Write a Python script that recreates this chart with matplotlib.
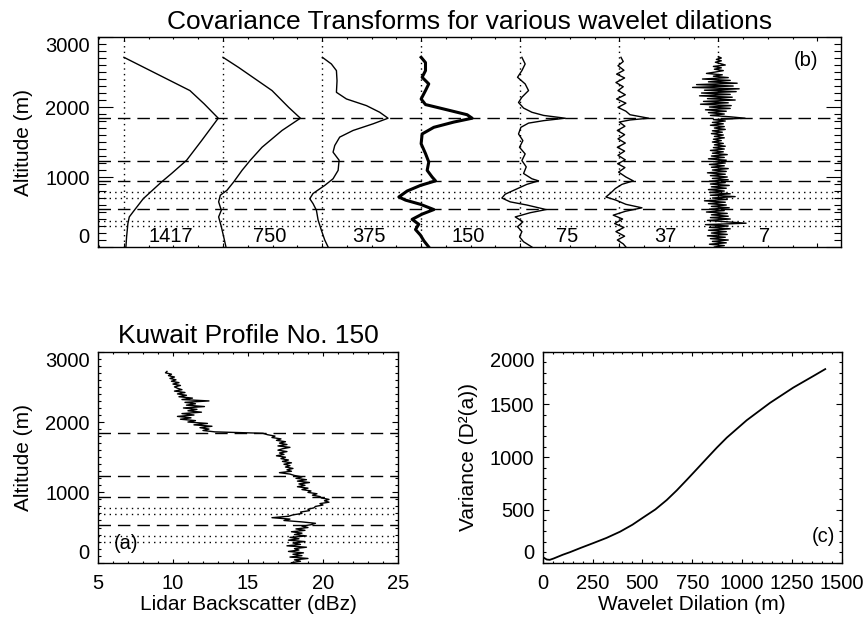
import numpy as np
import matplotlib.pyplot as plt
from matplotlib.ticker import MultipleLocator

plt.rcParams['font.family'] = ['Liberation Sans', 'DejaVu Sans']

# ---- data ----
dilations = ['1417', '750', '375', '150', '75', '37', '7']

# layer altitudes marked in panels (a) and (b)
dashed_alt = [1845, 1228, 940, 540]
dotted_alt = [780, 695, 377, 299]

# covariance transforms (plot units, offset per dilation)
alt_1417 = [2710, 2235, 2045, 1840, 1520, 1240, 1050, 930, 690, 505, 430, 335, 145, 0]
cov_1417 = [0.0, 0.666, 0.81, 0.952, 0.784, 0.633, 0.481, 0.380, 0.195, 0.094, 0.054, 0.040, 0.027, 0.020]

alt_750 = [2710, 2565, 2235, 1995, 1840, 1665, 1425, 1240, 1095, 930, 810, 740, 645, 525, 430, 290, 145, 0]
cov_750 = [0.0, 0.158, 0.495, 0.663, 0.781, 0.596, 0.394, 0.276, 0.192, 0.108, 0.040, -0.027, -0.044,
           -0.017, -0.044, -0.017, 0.007, 0.030]

alt_375 = [2710, 2615, 2520, 2375, 2210, 2115, 2020, 1925, 1840, 1760, 1665, 1570, 1450, 1355, 1240,
           1095, 975, 880, 765, 690, 620, 525, 385, 240, 100, 0]
cov_375 = [0.003, 0.094, 0.145, 0.151, 0.145, 0.246, 0.448, 0.582, 0.666, 0.515, 0.313, 0.178, 0.128,
           0.111, 0.172, 0.162, 0.111, 0.027, -0.091, -0.124, -0.091, -0.057, -0.040, -0.007, 0.027, 0.061]

alt_150 = [2710, 2635, 2520, 2425, 2330, 2235, 2115, 2035, 1960, 1890, 1840, 1785, 1710, 1615, 1475,
           1335, 1215, 1095, 1000, 945, 880, 800, 715, 670, 610, 535, 470, 395, 325, 250, 170, 90, 0]
cov_150 = [0.0, 0.044, 0.044, 0.010, 0.077, 0.044, 0.0, 0.044, 0.262, 0.464, 0.515, 0.330, 0.128,
           0.010, 0.0, 0.044, 0.077, 0.061, 0.111, 0.145, -0.007, -0.141, -0.225, -0.158, -0.007,
           0.128, 0.010, -0.091, -0.024, -0.057, -0.007, 0.027, 0.077]

alt_75 = [2710, 2615, 2520, 2425, 2330, 2235, 2140, 2065, 1985, 1925, 1880, 1840, 1805, 1770, 1710,
          1615, 1520, 1425, 1330, 1235, 1145, 1050, 975, 945, 895, 820, 755, 700, 645, 600, 535, 490,
          430, 360, 290, 220, 145, 75, 0]
cov_75 = [0.017, 0.050, 0.017, -0.027, 0.050, 0.084, 0.017, -0.017, 0.034, 0.118, 0.236, 0.454, 0.236,
          0.084, 0.007, -0.017, 0.027, -0.007, 0.050, 0.017, 0.061, 0.034, 0.118, 0.185, 0.067, -0.050,
          -0.151, -0.185, -0.101, 0.067, 0.262, 0.101, -0.050, 0.027, -0.027, 0.017, -0.007, 0.034, 0.118]

alt_37 = [2710, 2650, 2590, 2525, 2470, 2415, 2350, 2290, 2235, 2175, 2115, 2055, 1995, 1940, 1890,
          1865, 1840, 1815, 1785, 1725, 1665, 1605, 1545, 1485, 1425, 1370, 1310, 1245, 1190, 1135,
          1070, 1000, 945, 895, 835, 775, 715, 670, 610, 560, 510, 455, 400, 335, 280, 220, 155, 100, 45, 0]
cov_37 = [0.017, 0.040, -0.013, 0.047, -0.027, 0.054, -0.034, 0.040, -0.013, 0.061, -0.027, 0.067,
          -0.013, 0.067, 0.108, 0.202, 0.296, 0.108, 0.0, 0.057, -0.020, 0.054, -0.013, 0.061, -0.020,
          0.054, -0.013, 0.061, -0.017, 0.057, -0.007, 0.067, 0.141, 0.027, -0.040, -0.084, -0.135,
          -0.034, 0.067, 0.229, 0.061, -0.061, 0.034, -0.047, 0.047, -0.034, 0.054, -0.020, 0.040, 0.067]

# 20 m sampled series (2720 m down to 0 m)
alt_grid = np.arange(2720, -1, -20)
cov_7 = [0.00, 0.03, -0.02, 0.03, -0.03, 0.02, 0.07, -0.05, 0.03, -0.04, 0.05, -0.03, -0.12, 0.04,
         -0.05, 0.10, -0.16, 0.12, -0.10, 0.19, -0.22, 0.15, -0.26, 0.21, -0.14, 0.18, -0.17, 0.12,
         -0.19, 0.14, -0.11, 0.17, -0.15, 0.10, -0.18, 0.13, -0.09, 0.12, -0.13, 0.08, -0.10, 0.06,
         -0.08, 0.12, 0.27, -0.05, 0.07, -0.06, 0.05, -0.08, 0.06, -0.04, 0.07, -0.06, 0.04, -0.07,
         0.05, -0.04, 0.06, -0.05, 0.03, -0.06, 0.05, -0.04, 0.07, -0.05, 0.06, -0.08, 0.05, -0.06,
         0.09, -0.07, 0.06, -0.10, 0.08, -0.05, 0.07, -0.09, 0.06, -0.07, 0.10, -0.06, 0.08, -0.11,
         0.07, -0.08, 0.09, -0.06, 0.10, -0.09, 0.07, -0.08, 0.11, -0.07, 0.08, -0.10, 0.06, -0.09,
         0.12, -0.08, 0.17, -0.06, 0.09, -0.14, 0.07, -0.10, 0.08, -0.07, 0.11, -0.09, 0.06, -0.12,
         0.09, -0.07, 0.10, -0.08, 0.12, -0.11, 0.09, 0.28, -0.13, 0.10, -0.09, 0.12, -0.10, 0.08,
         -0.07, 0.09, -0.11, 0.07, -0.08, 0.10, -0.06, 0.08, -0.09, 0.06, -0.04]

backscatter = [9.6, 9.5, 9.9, 9.7, 10.1, 9.8, 10.2, 9.9, 10.4, 10.0, 10.5, 10.1, 10.3, 10.6, 10.1,
               10.8, 10.3, 10.9, 10.4, 11.3, 10.6, 12.4, 10.8, 11.5, 10.9, 12.1, 10.7, 11.6, 11.0,
               11.9, 10.6, 11.4, 10.3, 11.2, 10.5, 11.5, 11.0, 12.3, 11.4, 12.6, 11.8, 12.4, 12.0,
               12.8, 16.0, 16.3, 16.8, 16.6, 17.2, 16.9, 17.5, 17.1, 17.6, 17.0, 17.8, 17.3, 17.0,
               17.6, 17.1, 17.4, 16.9, 17.5, 17.2, 17.7, 17.3, 17.9, 17.4, 17.8, 17.5, 18.0, 17.6,
               17.9, 17.1, 17.8, 18.1, 18.6, 18.2, 18.9, 18.3, 19.1, 18.4, 18.8, 18.3, 19.0, 18.6,
               19.2, 19.0, 19.6, 19.3, 19.8, 19.9, 20.4, 20.1, 20.4, 19.8, 20.0, 19.5, 19.4, 19.0,
               19.1, 18.5, 18.6, 18.0, 17.7, 16.6, 17.8, 17.4, 18.6, 19.5, 19.2, 18.6, 19.0, 18.2,
               18.8, 17.9, 18.6, 18.1, 18.9, 17.8, 18.4, 17.7, 18.8, 18.0, 18.5, 17.6, 18.9, 18.1,
               18.4, 17.7, 18.7, 18.0, 18.6, 17.8, 19.0, 18.1, 18.5, 17.9]

# variance versus wavelet dilation
dilation_m = [7, 20, 35, 55, 100, 137, 190, 251, 320, 388, 450, 505, 565, 622, 672, 722, 772, 823,
              873, 923, 1023, 1140, 1257, 1358, 1417]
variance = [45, 30, 27, 40, 75, 100, 140, 184, 235, 294, 360, 430, 505, 594, 685, 784, 885, 989,
            1090, 1185, 1350, 1515, 1660, 1770, 1835]

transforms = [(alt_1417, cov_1417), (alt_750, cov_750), (alt_375, cov_375), (alt_150, cov_150),
              (alt_75, cov_75), (alt_37, cov_37), (alt_grid, cov_7)]

DASH = (0, (9, 5))
DOT = (0, (1, 3))
FS = 14.5


def idl_axes(ax, ylen, xlen):
    ax.tick_params(which='both', direction='in', top=True, right=True, width=0.8,
                   labelsize=FS, color='black')
    ax.tick_params(axis='y', which='major', length=ylen, pad=6)
    ax.tick_params(axis='y', which='minor', length=ylen / 2)
    ax.tick_params(axis='x', which='major', length=xlen, pad=8)
    ax.tick_params(axis='x', which='minor', length=xlen / 2)
    for s in ax.spines.values():
        s.set_linewidth(1.0)


def end_labels(ax):
    ticks = ax.yaxis.get_major_ticks()
    ticks[0].label1.set_va('bottom')
    ticks[-1].label1.set_va('top')


fig = plt.figure(figsize=(8.67, 6.18), dpi=100)

# ---- (b) covariance transforms ----
axb = fig.add_axes([0.1130, 0.6003, 0.8570, 0.3398])
for a in dashed_alt:
    axb.axhline(a, color='black', lw=1.0, ls=DASH)
for a in dotted_alt:
    axb.axhline(a, color='black', lw=1.0, ls=DOT)
for k, (alt, cov) in enumerate(transforms):
    axb.axvline(k, color='black', lw=1.0, ls=DOT)
    lw = 2.2 if dilations[k] == '150' else 1.0
    axb.plot(k + np.array(cov), alt, color='black', lw=lw)
    axb.text(k + 0.47, 70, dilations[k], fontsize=FS, ha='center', va='baseline')
axb.set_xlim(-0.262, 7.238)
axb.set_ylim(0, 3000)
axb.set_yticks([0, 1000, 2000, 3000])
axb.yaxis.set_minor_locator(MultipleLocator(100))
axb.set_xticks(np.arange(0, 8))
axb.xaxis.set_minor_locator(MultipleLocator(0.25))
axb.tick_params(axis='x', labelbottom=False)
idl_axes(axb, 10.8, 3)
end_labels(axb)
axb.set_ylabel('Altitude (m)', fontsize=15)
axb.yaxis.set_label_coords(-0.088, 0.5)
axb.set_title('Covariance Transforms for various wavelet dilations', fontsize=19, pad=6)
axb.text(0.953, 0.89, '(b)', transform=axb.transAxes, fontsize=FS, ha='center', va='center')

# ---- (a) lidar backscatter profile ----
axa = fig.add_axes([0.1130, 0.0895, 0.3460, 0.3414])
for a in dashed_alt:
    axa.axhline(a, color='black', lw=1.0, ls=DASH)
for a in dotted_alt:
    axa.axhline(a, color='black', lw=1.0, ls=DOT)
axa.plot(backscatter, alt_grid, color='black', lw=1.0)
axa.set_xlim(5, 25)
axa.set_ylim(0, 3000)
axa.set_xticks([5, 10, 15, 20, 25])
axa.xaxis.set_minor_locator(MultipleLocator(1))
axa.set_yticks([0, 1000, 2000, 3000])
axa.yaxis.set_minor_locator(MultipleLocator(100))
idl_axes(axa, 4.3, 3)
end_labels(axa)
axa.set_ylabel('Altitude (m)', fontsize=15)
axa.yaxis.set_label_coords(-0.218, 0.5)
axa.set_xlabel('Lidar Backscatter (dBz)', fontsize=15)
axa.xaxis.set_label_coords(0.5, -0.153)
axa.set_title('Kuwait Profile No. 150', fontsize=19, pad=6)
axa.text(0.093, 0.093, '(a)', transform=axa.transAxes, fontsize=FS, ha='center', va='center')

# ---- (c) variance vs dilation ----
axc = fig.add_axes([0.6260, 0.0895, 0.3449, 0.3414])
axc.plot(dilation_m, variance, color='black', lw=1.3)
axc.set_xlim(0, 1500)
axc.set_ylim(0, 2000)
axc.set_xticks([0, 250, 500, 750, 1000, 1250, 1500])
axc.xaxis.set_minor_locator(MultipleLocator(50))
axc.set_yticks([0, 500, 1000, 1500, 2000])
axc.yaxis.set_minor_locator(MultipleLocator(100))
idl_axes(axc, 4.3, 3)
end_labels(axc)
axc.set_ylabel('Variance (D²(a))', fontsize=15)
axc.yaxis.set_label_coords(-0.216, 0.5)
axc.set_xlabel('Wavelet Dilation (m)', fontsize=15)
axc.xaxis.set_label_coords(0.5, -0.153)
axc.text(0.939, 0.122, '(c)', transform=axc.transAxes, fontsize=FS, ha='center', va='center')

fig.savefig('out.png', dpi=100)
